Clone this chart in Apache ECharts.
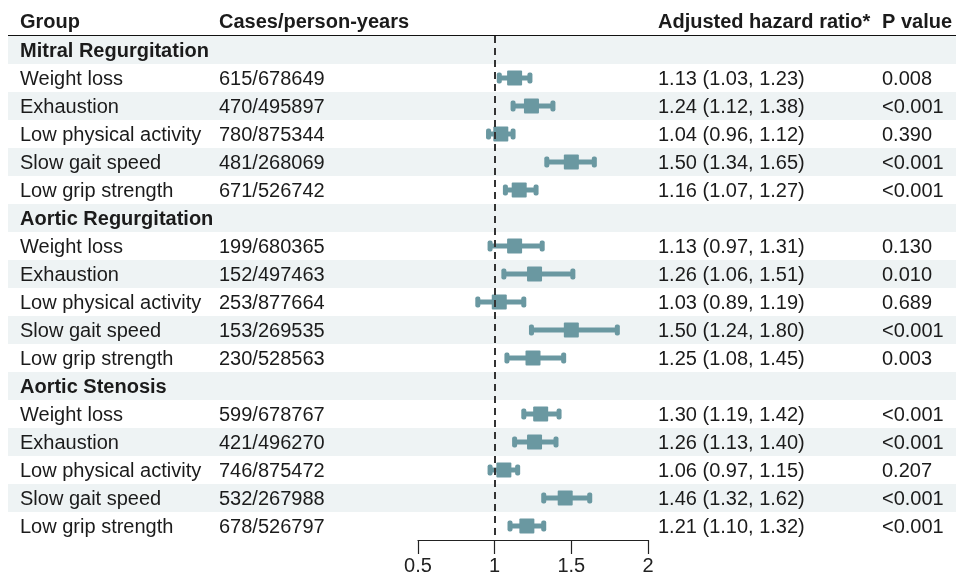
<!DOCTYPE html>
<html>
<head>
<meta charset="utf-8">
<script src="https://cdn.jsdelivr.net/npm/echarts@6/dist/echarts.min.js"></script>
<style>
  html, body { margin: 0; padding: 0; background: #fff; }
  #main { width: 956px; height: 576px; }
</style>
</head>
<body>
<div id="main"></div>
<script>
// column headers
const headers = ["Group", "Cases/person-years", "Adjusted hazard ratio*", "P value"];

// table rows (section titles have no numbers)
const rowNames = [
  "Mitral Regurgitation", "Weight loss", "Exhaustion", "Low physical activity", "Slow gait speed", "Low grip strength",
  "Aortic Regurgitation", "Weight loss", "Exhaustion", "Low physical activity", "Slow gait speed", "Low grip strength",
  "Aortic Stenosis", "Weight loss", "Exhaustion", "Low physical activity", "Slow gait speed", "Low grip strength"
];
const isSection = [1, 0, 0, 0, 0, 0, 1, 0, 0, 0, 0, 0, 1, 0, 0, 0, 0, 0];
const cases = [
  "", "615/678649", "470/495897", "780/875344", "481/268069", "671/526742",
  "", "199/680365", "152/497463", "253/877664", "153/269535", "230/528563",
  "", "599/678767", "421/496270", "746/875472", "532/267988", "678/526797"
];
const hr = [null, 1.13, 1.24, 1.04, 1.50, 1.16, null, 1.13, 1.26, 1.03, 1.50, 1.25, null, 1.30, 1.26, 1.06, 1.46, 1.21];
const lo = [null, 1.03, 1.12, 0.96, 1.34, 1.07, null, 0.97, 1.06, 0.89, 1.24, 1.08, null, 1.19, 1.13, 0.97, 1.32, 1.10];
const hi = [null, 1.23, 1.38, 1.12, 1.65, 1.27, null, 1.31, 1.51, 1.19, 1.80, 1.45, null, 1.42, 1.40, 1.15, 1.62, 1.32];
const pvals = [
  "", "0.008", "<0.001", "0.390", "<0.001", "<0.001",
  "", "0.130", "0.010", "0.689", "<0.001", "0.003",
  "", "<0.001", "<0.001", "0.207", "<0.001", "<0.001"
];

const FONT = "'Liberation Sans', Arial, sans-serif";
const TEXT_COLOR = "#1b1b1b";
const MARK_COLOR = "#6a98a1";
const BAND_COLOR = "#eef3f4";
const colX = [20, 219, 658, 882];

const fmt = v => v.toFixed(2);
const hrText = hr.map((v, i) => v == null ? "" : fmt(v) + " (" + fmt(lo[i]) + ", " + fmt(hi[i]) + ")");

const tableData = rowNames.map((n, i) => [0.5, i]);
const barData = [];
hr.forEach((v, i) => { if (v != null) barData.push([v, i, lo[i], hi[i]]); });

const chart = echarts.init(document.getElementById("main"));

const option = {
  animation: false,
  grid: { left: 418, right: 308, top: 36, bottom: 35 },
  xAxis: {
    type: "value",
    min: 0.5,
    max: 2,
    interval: 0.5,
    splitLine: { show: false },
    axisLine: { show: true, lineStyle: { color: "#222", width: 1.2 } },
    axisTick: { show: true, length: 14, lineStyle: { color: "#222", width: 1.2 } },
    axisLabel: {
      fontFamily: FONT, fontSize: 20, color: "#222", margin: 16,
      formatter: v => String(v)
    }
  },
  yAxis: {
    type: "category",
    inverse: true,
    data: rowNames.map((n, i) => i),
    show: false
  },
  graphic: [
    ...headers.map((h, k) => ({
      type: "text", x: colX[k], y: 22,
      style: { text: h, font: "bold 20px " + FONT, fill: TEXT_COLOR, verticalAlign: "middle" }
    })),
    {
      type: "rect", shape: { x: 8, y: 35, width: 948, height: 3 },
      style: { fill: "#111" }
    }
  ],
  series: [
    {
      type: "custom",
      z: 1,
      data: tableData,
      encode: { x: 0, y: 1 },
      renderItem: function (params, api) {
        const i = api.value(1);
        const y = api.coord([0.5, i])[1];
        const h = api.size([0, 1])[1];
        const font = (isSection[i] ? "bold " : "") + "20px " + FONT;
        const children = [];
        if (i % 2 === 0) {
          children.push({
            type: "rect",
            shape: { x: 8, y: y - h / 2, width: 948, height: h },
            style: { fill: BAND_COLOR }
          });
        }
        const texts = [rowNames[i], cases[i], hrText[i], pvals[i]];
        texts.forEach((t, k) => {
          if (!t) return;
          children.push({
            type: "text",
            x: colX[k], y: y + 1.5,
            style: { text: t, font: font, fill: TEXT_COLOR, verticalAlign: "middle", align: "left" }
          });
        });
        return { type: "group", children: children };
      }
    },
    {
      type: "custom",
      z: 3,
      data: barData,
      encode: { x: 0, y: 1 },
      renderItem: function (params, api) {
        const i = api.value(1);
        const c = api.coord([api.value(0), i]);
        const a = api.coord([api.value(2), i]);
        const b = api.coord([api.value(3), i]);
        const st = { fill: MARK_COLOR };
        return {
          type: "group",
          children: [
            { type: "rect", shape: { x: a[0], y: c[1] - 2.5, width: b[0] - a[0], height: 5 }, style: st },
            { type: "rect", shape: { x: a[0] - 2.5, y: c[1] - 5.5, width: 5, height: 11, r: 2 }, style: st },
            { type: "rect", shape: { x: b[0] - 2.5, y: c[1] - 5.5, width: 5, height: 11, r: 2 }, style: st },
            { type: "rect", shape: { x: c[0] - 7.5, y: c[1] - 7.5, width: 15, height: 15, r: 1 }, style: st }
          ]
        };
      }
    },
    {
      type: "line",
      z: 5,
      data: [],
      markLine: {
        silent: true,
        symbol: ["none", "none"],
        label: { show: false },
        lineStyle: { color: "#333", type: [7, 5], width: 2 },
        data: [{ xAxis: 1 }]
      }
    }
  ]
};

chart.setOption(option);
</script>
</body>
</html>
